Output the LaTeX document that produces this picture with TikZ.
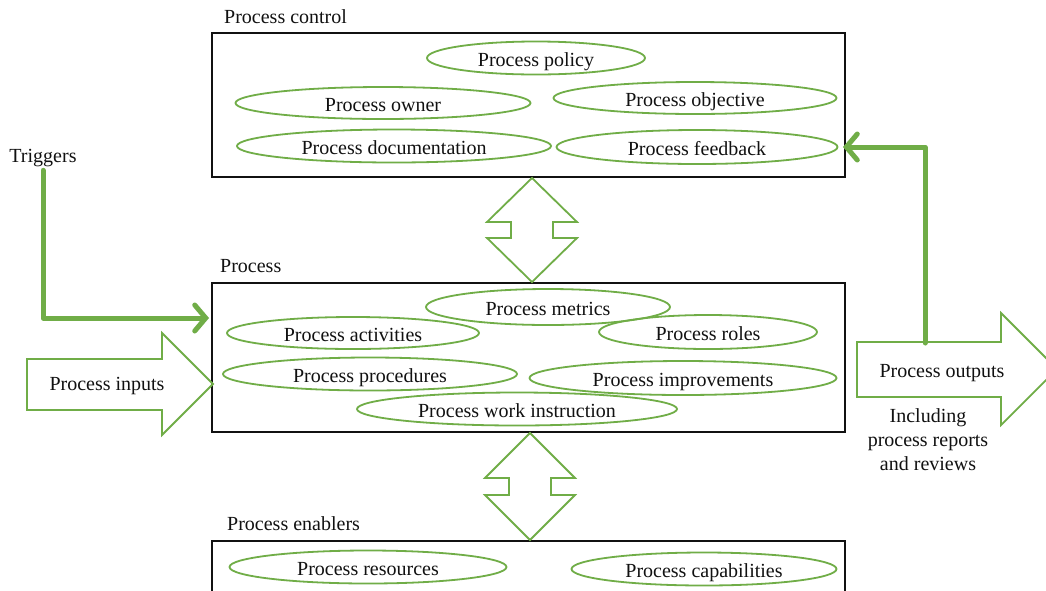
\documentclass[tikz,border=0pt]{standalone}
\usepackage{fontspec}
\setmainfont{Liberation Serif}
\usepackage{xcolor}
\usepackage{tikz}
\usetikzlibrary{calc,shapes.geometric,arrows.meta}
\definecolor{ink}{HTML}{111111}
\definecolor{grn}{HTML}{70AD47}
\definecolor{paper}{HTML}{FFFFFF}
\tikzset{
  box/.style={draw=ink, line width=1.8pt, inner sep=0pt},
  oval/.style={ellipse, draw=grn, line width=1.8pt, inner sep=0pt, text height=16pt, text depth=0pt, text=ink, font=\fontsize{20}{24}\selectfont},
  blk/.style={draw=grn, line width=1.8pt, line join=miter},
  flow/.style={draw=grn, line width=5pt, line join=round, line cap=round, -{Straight Barb[length=11pt,width=26pt,line cap=round]}},
  lab/.style={text=ink, font=\fontsize{20}{24}\selectfont},
}

\begin{document}
\begin{tikzpicture}[x=1pt,y=-1pt]
  \useasboundingbox (0,0) rectangle (1046,590);
  \fill[paper] (0,0) rectangle (1046,590);
  \clip (0,0) rectangle (1046,590);

  % the three boxes
  \node[box, minimum width=633pt, minimum height=144pt] (ctrl) at (528.5,105) {};
  \node[box, minimum width=633pt, minimum height=149pt] (proc) at (528.5,357.5) {};
  \node[box, minimum width=633pt, minimum height=69pt] (enab) at (528.5,575.5) {};
  \node[lab, anchor=west, inner sep=2pt] at (222,17) {Process control};
  \node[lab, anchor=west, inner sep=2pt] at (218,266) {Process};
  \node[lab, anchor=west, inner sep=2pt] at (225,524) {Process enablers};

  % process control
  \node[oval, minimum width=218pt, minimum height=33pt] (policy) at (536,58) {Process policy};
  \node[oval, minimum width=295pt, minimum height=32pt] (owner) at (383,103) {Process owner};
  \node[oval, minimum width=283pt, minimum height=32pt] (objective) at (695,98) {Process objective};
  \node[oval, minimum width=314pt, minimum height=33pt] (docs) at (394,146) {Process documentation};
  \node[oval, minimum width=281pt, minimum height=34pt] (fb) at (697,147) {Process feedback};

  % process
  \node[oval, minimum width=244pt, minimum height=36pt] (metrics) at (548,307) {Process metrics};
  \node[oval, minimum width=252pt, minimum height=32pt] (activities) at (353,333) {Process activities};
  \node[oval, minimum width=218pt, minimum height=34pt] (roles) at (708,332) {Process roles};
  \node[oval, minimum width=294pt, minimum height=33pt] (procedures) at (370,374) {Process procedures};
  \node[oval, minimum width=307pt, minimum height=34pt] (improve) at (683,378) {Process improvements};
  \node[oval, minimum width=320pt, minimum height=33pt] (work) at (517,409) {Process work instruction};

  % process enablers
  \node[oval, minimum width=277pt, minimum height=33pt] (resources) at (368,567) {Process resources};
  \node[oval, minimum width=265pt, minimum height=33pt] (capab) at (704,569) {Process capabilities};

  % double block arrows
  \draw[blk] (532,178) -- ++(45,44) -- ++(-24,0) -- ++(0,16) -- ++(24,0) -- ++(-45,44)
             -- ++(-45,-44) -- ++(24,0) -- ++(0,-16) -- ++(-24,0) -- cycle;
  \draw[blk] (530,433) -- ++(45,45) -- ++(-24,0) -- ++(0,17) -- ++(24,0) -- ++(-45,45)
             -- ++(-45,-45) -- ++(24,0) -- ++(0,-17) -- ++(-24,0) -- cycle;

  % inputs and outputs
  \draw[blk] (27,359) -- (162,359) -- (162,333) -- (213,384) -- (162,435) -- (162,410) -- (27,410) -- cycle;
  \node[lab] (inputs) at (107,386) {Process inputs};
  \draw[blk] (857,342) -- (1001,342) -- (1001,313) -- (1057,369) -- (1001,425) -- (1001,397) -- (857,397) -- cycle;
  \node[lab] (outputs) at (942,373) {Process outputs};
  \node[lab, align=center] (incl) at (928,440) {Including\\process reports\\and reviews};

  % triggers and feedback
  \node[lab] (trig) at (43,158) {Triggers};
  \coordinate (trigin) at (209,318);
  \coordinate (outtop) at (925,343);
  \coordinate (fbin) at (843,147);
  \draw[flow] (trig.south) |- (trigin);
  \draw[flow] (outtop) |- (fbin);
\end{tikzpicture}
\end{document}
